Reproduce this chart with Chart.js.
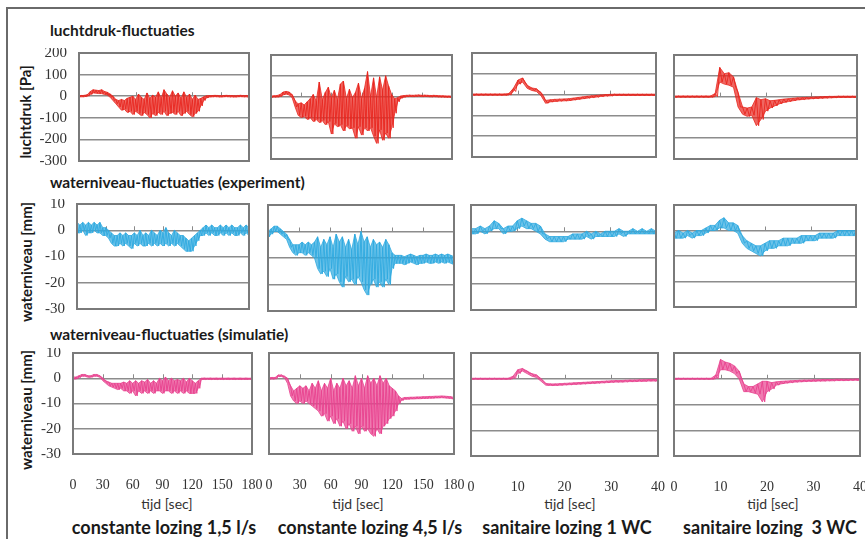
<!DOCTYPE html>
<html><head><meta charset="utf-8">
<script src="https://cdn.jsdelivr.net/npm/chart.js@4.4.1/dist/chart.umd.min.js"></script>
<style>
html,body{margin:0;padding:0;background:#fff;}
body{width:865px;height:539px;position:relative;overflow:hidden;font-family:Lato,"Open Sans",sans-serif;}
.frame{position:absolute;left:6px;top:7px;width:900px;height:600px;border-left:2px solid #6a6a6a;border-top:2px solid #6a6a6a;}
canvas{position:absolute;}
.t{position:absolute;white-space:nowrap;color:#1a1a1a;}
.sec{font-weight:700;font-size:15.5px;transform:translateY(-50%);}
.yt{font-weight:700;font-size:15px;transform:translate(-50%,-50%) rotate(-90deg);}
.xt{font-size:14px;color:#333;transform:translate(-50%,-50%);}
.cap{font-weight:700;font-size:18px;transform:translate(-50%,-50%);}
</style></head><body>
<div class="frame"></div>
<div class="t sec" style="left:50px;top:30px">luchtdruk-fluctuaties</div>
<div class="t sec" style="left:50px;top:182px">waterniveau-fluctuaties (experiment)</div>
<div class="t sec" style="left:50px;top:334px">waterniveau-fluctuaties (simulatie)</div>
<div class="t yt" style="left:25px;top:112px">luchtdruk [Pa]</div>
<div class="t yt" style="left:26px;top:262px">waterniveau [mm]</div>
<div class="t yt" style="left:26px;top:410px">waterniveau [mm]</div>
<div class="t xt" style="left:167px;top:503px">tijd [sec]</div>
<div class="t xt" style="left:358px;top:503px">tijd [sec]</div>
<div class="t xt" style="left:570px;top:503px">tijd [sec]</div>
<div class="t xt" style="left:773px;top:503px">tijd [sec]</div>
<div class="t cap" style="left:164px;top:527px">constante lozing 1,5 l/s</div>
<div class="t cap" style="left:370px;top:527px">constante lozing 4,5 l/s</div>
<div class="t cap" style="left:567px;top:527px">sanitaire lozing 1 WC</div>
<div class="t cap" style="left:770px;top:527px">sanitaire lozing&nbsp; 3 WC</div>
<script>
// ---- sample times ----
const timeLong = [0,3,6,9,12,15,18,21,24,27,30,33,36,39,42,45,48,51,54,57,60,63,66,69,72,75,78,81,84,87,90,93,96,99,102,105,108,111,114,117,120,123,126,129,132,135,138,141,144,147,150,153,156,159,162,165,168,171,174,177,180];
const timeShort = [0,1,2,3,4,5,6,7,8,9,10,11,12,13,14,15,16,17,18,19,20,21,22,23,24,25,26,27,28,29,30,31,32,33,34,35,36,37,38,39,40];

// ---- tick labels ----
const yTicksLucht = [-300,-200,-100,0,100,200];
const yTicksWater = [-30,-20,-10,0,10];
const xTicksLong = [0,30,60,90,120,150,180];
const xTicksShort = [0,10,20,30,40];

// ---- luchtdruk [Pa] : upper / lower envelope of the signal ----
const luchtConst15Hi = [3,3,4,8, 22,30,28,26,30,22,18,10, 0,-15,-20, -15,-20,-10,-5,0,-15,10,-5,-15,15, -10,5,-5,20,-10,30,10,-5,25,0, 15,-10,20,-5,10,-15,5,-15, -10,-3,2,3, 3,4,3,2,3,4,3,3,2,3,4,3,3,3];
const luchtConst15Lo = [-2,-3,-2,0, 8,15,14,12,12,8,5,-5, -20,-35,-50, -65,-60,-75,-70,-85,-70,-80,-90,-75,-85, -100,-80,-90,-75,-85,-70,-90,-80,-75,-85, -70,-90,-80,-70,-85,-95,-80,-70, -45,-20,-8,-4, -3,-2,-3,-4,-3,-2,-3,-3,-4,-3,-2,-3,-3,-3];
const luchtConst45Hi = [3,4,5,10,22,25,22,10, -20,-35,-30,-40,-25,-10,10,-20,70,-15, 20,45,-5,30,-15,60,75,-10,35,-5, 20,65,-10,40,120,0,90,-5,95,30, 100,50,10,-10,-5, 3,5,6,7,6,7,8,6,7,6,5,6,5,4,4,3,3,2];
const luchtConst45Lo = [-3,-2,-2,0,8,12,8,-5, -50,-90,-100,-95,-110,-100,-120,-110,-125,-115, -135,-120,-180,-130,-145,-135,-165,-140,-155,-150, -200,-145,-185,-150,-165,-150,-190,-225,-160,-210, -175,-200,-150,-80,-25, -8,-3,0,1,0,1,2,0,1,0,-1,0,-1,-2,-2,-3,-3,-4];
const luchtWc1Hi = [3,3,3,3,3,3,3,3, 5,30,70,80,45,32,28,10,-28,-25, -23,-22,-21,-20,-17,-14,-11,-8,-6,-4, -2,0,1, 2,2,2,2,2,2,2,2,2,2];
const luchtWc1Lo = [-3,-3,-3,-3,-3,-3,-3,-3, -2,15,50,60,30,20,15,-5,-42,-35, -33,-31,-30,-29,-26,-23,-20,-17,-14,-12, -9,-7,-6, -4,-4,-4,-4,-4,-4,-4,-4,-4,-4];
const luchtWc3Hi = [3,3,3,3,3,3,3,3,3, 15,140,110,115,95,20,-50,-55,-50,-5, -15,-10,-20,-18,-15,-12,-10,-8,-6,-5, -4,-3,-2,-1, 0,1,1,2,2,2,2,2];
const luchtWc3Lo = [-3,-3,-3,-3,-3,-3,-3,-3,-3, 0,70,60,55,45,-50,-85,-95,-90,-140, -110,-70,-55,-45,-35,-28,-24,-20,-16,-14, -12,-10,-9,-8, -7,-6,-5,-4,-4,-4,-4,-4];

// ---- waterniveau experiment [mm] ----
const expConst15Hi = [3,2,3,2,3,2,3,2,3,1,1, 0,-1,-2,-2,-1,-2,-1,-2,-2,-1, -2,0,-2,-1,-2,0,-1,-2,0,-1, 1,-1,-2,0,-1,-2,-2,-3,-4,-3, -2,-1,0, 1,2,1,2,1,1,2,1,2,1,2,1,1,2,1,2,1];
const expConst15Lo = [-1,-1,0,-2,-1,-1,0,-1,-1,-2,-2, -3,-5,-6,-6,-5,-6,-5,-6,-7,-5, -6,-5,-6,-6,-5,-6,-5,-6,-5,-6, -5,-6,-5,-6,-5,-6,-7,-8,-8,-8, -6,-4,-2, -2,-1,-2,-1,-2,-2,-1,-2,-1,-2,-1,-2,-2,-1,-2,-1,-2];
const expConst45Hi = [0,1,2,2,1,0,-1, -3,-5,-5,-5,-4,-5,-4,-5,-4,-2, -6,-3,-5,-2,-6,-1,-4,-2,-6,-3, -7,-1,-5,0,-4,-2,-6,-3,-5,-4, -6,-3,-5,-8,-9,-9, -9,-9.5,-9,-8.5,-9,-9.5,-9,-9,-8.5,-9,-9,-8.5,-9,-8.5,-9,-8.5,-9,-9.5];
const expConst45Lo = [-2,-1,0,0,-1,-2,-3, -6,-8,-9,-8,-8,-9,-8,-9,-10,-14, -16,-15,-17,-14,-18,-16,-19,-21,-17,-19, -18,-20,-17,-19,-22,-24,-20,-18,-21,-19, -21,-18,-20,-14,-12,-12, -12,-12.5,-12,-11.5,-12,-12.5,-12,-12,-11.5,-12,-12,-11.5,-12,-11.5,-12,-11.5,-12,-12.5];
const expWc1Hi = [1,1,2,1,2,4,3,1,2,2, 4,5,4,3,3,2,-1,-2,-2,-2, -2,-2,-1,-1,-1,0,-1,0,-1,0, 0,0,1,0,0,1,0,1,0,1, 0];
const expWc1Lo = [-1,-1,0,-1,0,1,1,-1,0,0, 1,2,1,1,0,-1,-3,-4,-4,-4, -4,-3,-3,-3,-3,-2,-3,-2,-2,-2, -2,-2,-1,-2,-1,-1,-1,-1,-1,-1, -1];
const expWc3Hi = [-1,0,-1,0,-1,0,0,1,2,2, 4,5,3,3,2,-2,-4,-5,-6,-6, -5,-4,-4,-4,-3,-3,-3,-3,-2,-2, -2,-2,-1,-1,-1,-1,0,0,0,0, 0];
const expWc3Lo = [-3,-3,-3,-2,-3,-2,-2,-1,0,0, 1,1,0,0,-1,-5,-7,-8,-9,-10, -8,-7,-7,-6,-6,-6,-5,-5,-5,-4, -4,-4,-3,-3,-3,-3,-2,-2,-2,-2, -2];

// ---- waterniveau simulatie [mm] ----
const simConst15Hi = [0.5,0.5,1,1.5,1.5,1,1,1.5,1.5,1, 0,-1,-1.5,-2,-2,-2,-2,-1.5,-2,-1, -2,-1,-2,-1,-1.5,-0.5,-2,-1,-2,0, -1,0.5,-1,0,-1,-0.5,-1,0,-1.5,0, -1,-2,-1, 0,0.1,0,0.1,0,0.1,0,0.1,0,0.1,0,0.1,0,0.1,0,0.1,0,0.1];
const simConst15Lo = [-0.3,-0.3,0.3,0.8,0.8,0.4,0.4,0.8,0.8,0.4, -1,-2,-3,-3.5,-4,-4.5,-4,-5,-5,-6, -5,-7,-5,-6,-5,-6,-5,-6,-5,-5, -6,-5,-5,-6,-5,-6,-5,-6,-5,-6, -6,-6,-4, -0.4,-0.5,-0.4,-0.5,-0.4,-0.5,-0.4,-0.5,-0.4,-0.5,-0.4,-0.5,-0.4,-0.5,-0.4,-0.5,-0.4,-0.5];
const simConst45Hi = [0.3,0.3,0.3,1.3,1.3,0.8,0, -3,-5,-4,-3,-4,-3,-5,-2,-4,-1, -5,-2,-4,0,-5,-2,-4,0,-3,-1, -4,1,-3,0,-4,1,-2,0,-3,1, -2,0,-3,-4,-5,-7, -8,-7.6,-7.6,-7.5,-7.5,-7.4,-7.4,-7.3,-7.3,-7.2,-7.2,-7.1,-7.1,-7,-7.1,-7.2,-7.3,-7.6];
const simConst45Lo = [-0.3,-0.3,-0.3,0.7,0.7,0.2,-2, -7,-9,-10,-9,-10,-9,-10,-11,-12,-13, -15,-14,-17,-15,-18,-16,-19,-17,-20,-18, -21,-19,-22,-19,-21,-20,-22,-23,-20,-22, -19,-18,-16,-15,-13,-10, -8.8,-8.3,-8.3,-8.2,-8.2,-8.1,-8.1,-8,-8,-7.9,-7.9,-7.8,-7.8,-7.7,-7.8,-7.9,-8,-8.3];
const simWc1Hi = [0.2,0.2,0.2,0.2,0.2,0.2,0.2,0.2,0.2, 1,3.5,4,3,2,1.5,0,-1.8,-2,-2, -1.9,-1.8,-1.7,-1.6,-1.5,-1.4,-1.3,-1.2,-1.1,-1, -0.9,-0.8,-0.7,-0.7,-0.6,-0.5,-0.5,-0.4,-0.4,-0.3, -0.3,-0.3];
const simWc1Lo = [-0.2,-0.2,-0.2,-0.2,-0.2,-0.2,-0.2,-0.2,-0.2, 0,2,3,2,1,0.5,-1,-2.5,-2.6,-2.6, -2.5,-2.4,-2.3,-2.2,-2.1,-2,-1.9,-1.8,-1.7,-1.6, -1.5,-1.4,-1.3,-1.3,-1.2,-1.1,-1.1,-1,-1,-0.9, -0.9,-0.9];
const simWc3Hi = [0.2,0.2,0.2,0.2,0.2,0.2,0.2,0.2,0.2, 1.5,7.5,6.5,6,5,3,-2,-3,-3,-2, -1,-1,-1.5,-1.2,-1,-0.9,-0.8,-0.7,-0.6,-0.5, -0.5,-0.4,-0.4,-0.3,-0.3,-0.3,-0.2,-0.2,-0.2,-0.2,-0.1,-0.1];
const simWc3Lo = [-0.2,-0.2,-0.2,-0.2,-0.2,-0.2,-0.2,-0.2,-0.2, 0,3.5,3.5,3,2,0,-5,-5,-5.5,-6, -9,-5,-4,-2.5,-2,-1.7,-1.5,-1.3,-1.2,-1.1, -1,-1,-0.9,-0.9,-0.8,-0.8,-0.7,-0.7,-0.7,-0.6,-0.6,-0.6];

const RED = '#e8271f', BLUE = '#2fa9e0', PINK = '#e8428f';
const RED_F = 'rgba(232,39,31,0.7)', BLUE_F = 'rgba(47,169,224,0.7)', PINK_F = 'rgba(232,66,143,0.7)';
const SERIF = '"Liberation Serif", "DejaVu Serif", serif';

function toPoints(times, vals) {
  return times.map((t, i) => ({x: t, y: vals[i]}));
}
// one zig-zag trace that swings between the upper and lower envelope
function zigzag(times, hi, lo) {
  const pts = [];
  const n = times.length;
  for (let i = 0; i < n; i++) {
    pts.push({x: times[i], y: hi[i]});
    const xm = i < n - 1 ? (times[i] + times[i + 1]) / 2 : times[i];
    pts.push({x: xm, y: lo[i]});
  }
  return pts;
}

const framePlugin = {
  id: 'frame',
  beforeDatasetsDraw(chart) {
    const {ctx, scales} = chart;
    const y0 = scales.y.getPixelForValue(0);
    ctx.save();
    ctx.strokeStyle = '#8a8a8a';
    ctx.lineWidth = 1;
    scales.x.ticks.forEach(t => {
      if (t.value > scales.x.min && t.value < scales.x.max) {
        const px = Math.round(scales.x.getPixelForValue(t.value)) + 0.5;
        ctx.beginPath(); ctx.moveTo(px, y0); ctx.lineTo(px, y0 - 4); ctx.stroke();
      }
    });
    ctx.restore();
  },
  afterDraw(chart) {
    const {ctx, chartArea: a} = chart;
    ctx.save();
    ctx.strokeStyle = '#7a7a7a';
    ctx.lineWidth = 2;
    ctx.strokeRect(a.left, a.top, a.right - a.left, a.bottom - a.top);
    ctx.restore();
  }
};

const panels = [
  {box:[79,53,170,108],  t:timeLong,  hi:luchtConst15Hi, lo:luchtConst15Lo, c:RED,  f:RED_F,  yt:yTicksLucht, xt:xTicksLong,  showY:true,  showX:false},
  {box:[271,55,181,104], t:timeLong,  hi:luchtConst45Hi, lo:luchtConst45Lo, c:RED,  f:RED_F,  yt:yTicksLucht, xt:xTicksLong,  showY:false, showX:false},
  {box:[472,53,184,104], t:timeShort, hi:luchtWc1Hi,     lo:luchtWc1Lo,     c:RED,  f:RED_F,  yt:yTicksLucht, xt:xTicksShort, showY:false, showX:false},
  {box:[674,55,183,104], t:timeShort, hi:luchtWc3Hi,     lo:luchtWc3Lo,     c:RED,  f:RED_F,  yt:yTicksLucht, xt:xTicksShort, showY:false, showX:false},
  {box:[77,204,172,105], t:timeLong,  hi:expConst15Hi,   lo:expConst15Lo,   c:BLUE, f:BLUE_F, yt:yTicksWater, xt:xTicksLong,  showY:true,  showX:false},
  {box:[268,205,186,106],t:timeLong,  hi:expConst45Hi,   lo:expConst45Lo,   c:BLUE, f:BLUE_F, yt:yTicksWater, xt:xTicksLong,  showY:false, showX:false},
  {box:[471,205,185,105],t:timeShort, hi:expWc1Hi,       lo:expWc1Lo,       c:BLUE, f:BLUE_F, yt:yTicksWater, xt:xTicksShort, showY:false, showX:false},
  {box:[674,205,182,102],t:timeShort, hi:expWc3Hi,       lo:expWc3Lo,       c:BLUE, f:BLUE_F, yt:yTicksWater, xt:xTicksShort, showY:false, showX:false},
  {box:[73,353,179,101], t:timeLong,  hi:simConst15Hi,   lo:simConst15Lo,   c:PINK, f:PINK_F, yt:yTicksWater, xt:xTicksLong,  showY:true,  showX:true},
  {box:[269,353,185,101],t:timeLong,  hi:simConst45Hi,   lo:simConst45Lo,   c:PINK, f:PINK_F, yt:yTicksWater, xt:xTicksLong,  showY:false, showX:true},
  {box:[471,353,187,103],t:timeShort, hi:simWc1Hi,       lo:simWc1Lo,       c:PINK, f:PINK_F, yt:yTicksWater, xt:xTicksShort, showY:false, showX:true},
  {box:[674,353,186,103],t:timeShort, hi:simWc3Hi,       lo:simWc3Lo,       c:PINK, f:PINK_F, yt:yTicksWater, xt:xTicksShort, showY:false, showX:true}
];

const LW = 50, PT = 5, PR = 14, BH = 35;

panels.forEach(p => {
  const [bx, by, bw, bh] = p.box;
  const cv = document.createElement('canvas');
  cv.width = bw + LW + PR;
  cv.height = bh + PT + BH;
  cv.style.left = (bx - LW) + 'px';
  cv.style.top = (by - PT) + 'px';
  document.body.appendChild(cv);
  const xt = p.xt, yt = p.yt;
  new Chart(cv.getContext('2d'), {
    type: 'line',
    data: {datasets: [
      {data: toPoints(p.t, p.hi), borderColor: p.c, borderWidth: 0.8, pointRadius: 0, tension: 0, fill: false},
      {data: toPoints(p.t, p.lo), borderColor: p.c, borderWidth: 0.8, pointRadius: 0, tension: 0, fill: '-1', backgroundColor: p.f},
      {data: zigzag(p.t, p.hi, p.lo), borderColor: p.c, borderWidth: 0.9, pointRadius: 0, tension: 0, fill: false}
    ]},
    options: {
      responsive: false, animation: false, maintainAspectRatio: false,
      layout: {padding: {top: PT, right: PR, left: 0, bottom: 0}},
      plugins: {legend: {display: false}, tooltip: {enabled: false}},
      scales: {
        x: {
          type: 'linear', min: xt[0], max: xt[xt.length - 1],
          afterBuildTicks: s => { s.ticks = xt.map(v => ({value: v})); },
          ticks: {display: p.showX, padding: 15, color: '#333', font: {family: SERIF, size: 14}, maxRotation: 0, autoSkip: false},
          grid: {display: false}, border: {display: false},
          afterFit: s => { s.height = BH; s.paddingLeft = 0; s.paddingRight = 0; }
        },
        y: {
          type: 'linear', min: yt[0], max: yt[yt.length - 1],
          afterBuildTicks: s => { s.ticks = yt.map(v => ({value: v})); },
          ticks: {display: p.showY, padding: 12, color: '#333', font: {family: SERIF, size: 15}},
          grid: {color: '#8c8c8c', lineWidth: 1.5, drawTicks: false}, border: {display: false},
          afterFit: s => { s.width = LW; s.paddingTop = 0; s.paddingBottom = 0; }
        }
      }
    },
    plugins: [framePlugin]
  });
});
</script>
</body></html>
